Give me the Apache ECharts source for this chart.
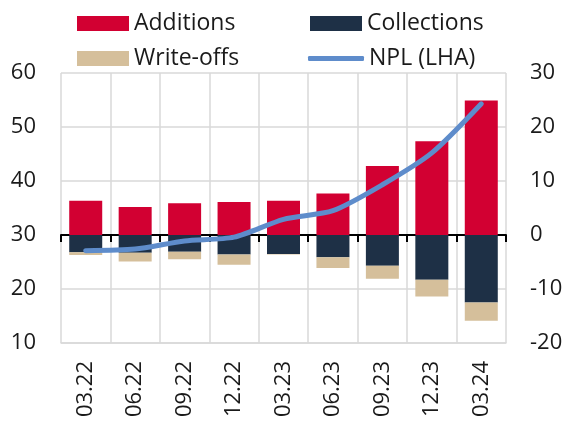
<!DOCTYPE html>
<html>
<head>
<meta charset="utf-8">
<script src="https://cdn.jsdelivr.net/npm/echarts@6/dist/echarts.min.js"></script>
<style>
  html, body { margin: 0; padding: 0; background: #fff; }
  #chart { width: 566px; height: 424px; }
</style>
</head>
<body>
<div id="chart"></div>
<script>
  // quarters
  const categories = ['03.22', '06.22', '09.22', '12.22', '03.23', '06.23', '09.23', '12.23', '03.24']
  // flows, right axis
  const additions = [6.35, 5.2, 5.9, 6.1, 6.35, 7.7, 12.8, 17.35, 24.9]
  const collections = [-3.2, -3.3, -3.1, -3.6, -3.5, -4.1, -5.7, -8.3, -12.5]
  const writeOffs = [-0.5, -1.6, -1.4, -1.9, -0.1, -2.0, -2.4, -3.1, -3.4]
  // NPL stock, left axis
  const npl = [27.1, 27.4, 28.9, 29.6, 32.9, 34.5, 39.3, 45.2, 54.3]
  const leftTicks = { min: 10, max: 60, interval: 10 }
  const rightTicks = { min: -20, max: 30, interval: 10 }

  const FONT = 'Open Sans'
  const TXT = '#1a1a1a'

  const chart = echarts.init(document.getElementById('chart'))

  const legendBase = {
    itemWidth: 52,
    itemHeight: 15,
    icon: 'rect',
    textStyle: { fontFamily: FONT, fontSize: 23, color: TXT },
    itemGap: 6,
    selectedMode: false,
  }

  chart.setOption({
    animation: false,
    textStyle: { fontFamily: FONT },
    legend: [
      Object.assign({}, legendBase, { left: 72, top: 7, data: ['Additions'] }),
      Object.assign({}, legendBase, { left: 305, top: 7, data: ['Collections'] }),
      Object.assign({}, legendBase, { left: 72, top: 42, data: ['Write-offs'] }),
      Object.assign({}, legendBase, { left: 303, top: 42, itemWidth: 56, itemHeight: 5, icon: 'roundRect', data: ['NPL (LHA)'] }),
    ],
    grid: { left: 61, right: 60, top: 73, bottom: 81 },
    xAxis: [
      {
        type: 'category',
        data: categories,
        position: 'bottom',
        axisLine: { onZero: false, lineStyle: { color: '#d9d9d9', width: 1.5 } },
        axisTick: { show: false },
        splitLine: { show: true, lineStyle: { color: '#d9d9d9', width: 1.5 } },
        axisLabel: { rotate: 90, margin: 18, fontSize: 22, color: TXT, fontFamily: FONT },
      },
      {
        type: 'category',
        data: categories,
        position: 'bottom',
        axisLine: { onZero: true, onZeroAxisIndex: 1, lineStyle: { color: '#000', width: 2 } },
        axisTick: { show: true, length: 7, lineStyle: { color: '#000', width: 2 } },
        axisLabel: { show: false },
        splitLine: { show: false },
      },
    ],
    yAxis: [
      {
        type: 'value',
        min: leftTicks.min,
        max: leftTicks.max,
        interval: leftTicks.interval,
        axisLine: { show: false },
        axisTick: { show: false },
        splitLine: { lineStyle: { color: '#d9d9d9', width: 1.5 } },
        axisLabel: { fontSize: 22, color: TXT, margin: 25, fontFamily: FONT },
      },
      {
        type: 'value',
        min: rightTicks.min,
        max: rightTicks.max,
        interval: rightTicks.interval,
        position: 'right',
        axisLine: { show: false },
        axisTick: { show: false },
        splitLine: { show: false },
        axisLabel: { fontSize: 22, color: TXT, margin: 24, fontFamily: FONT },
      },
    ],
    series: [
      {
        name: 'Additions',
        type: 'bar',
        yAxisIndex: 1,
        stack: 'flow',
        barWidth: 33,
        itemStyle: { color: '#d20032' },
        data: additions,
      },
      {
        name: 'Collections',
        type: 'bar',
        yAxisIndex: 1,
        stack: 'flow',
        barWidth: 33,
        itemStyle: { color: '#1e3046' },
        data: collections,
      },
      {
        name: 'Write-offs',
        type: 'bar',
        yAxisIndex: 1,
        stack: 'flow',
        barWidth: 33,
        itemStyle: { color: '#d5bf9b' },
        data: writeOffs,
      },
      {
        name: 'NPL (LHA)',
        type: 'line',
        yAxisIndex: 0,
        smooth: 0.25,
        symbol: 'none',
        z: 5,
        lineStyle: { color: '#5e8ccb', width: 5, cap: 'round' },
        itemStyle: { color: '#5e8ccb' },
        data: npl,
      },
    ],
  })
</script>
</body>
</html>
